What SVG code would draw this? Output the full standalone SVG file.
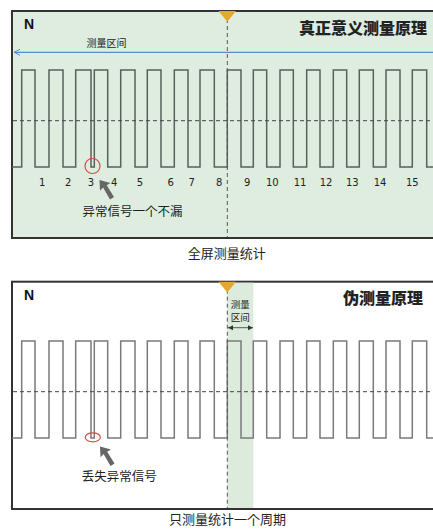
<svg xmlns="http://www.w3.org/2000/svg" width="433" height="529" viewBox="0 0 433 529">
<style>
.t{font-family:"Noto Sans CJK JP","Noto Sans CJK SC",sans-serif;fill:#222222}
.n{font-family:"Liberation Sans",Arial,sans-serif;font-weight:bold;font-size:14px;fill:#111}
.num{font-family:"DejaVu Sans","Noto Sans",sans-serif;font-size:10px;fill:#222;text-anchor:middle}
.wave{fill:none;stroke-width:1.5;stroke-linejoin:miter}
.dash{stroke:#444;stroke-width:1;stroke-dasharray:4,3;fill:none}
.vdash{stroke:#555;stroke-width:1;stroke-dasharray:4,3;fill:none}
.frame{stroke:#333;stroke-width:2}
.ptr{fill:#666}
</style>
<defs>
<marker id="blueHead" markerWidth="8" markerHeight="8" refX="1" refY="4" orient="auto" markerUnits="userSpaceOnUse">
<path d="M7,1 L1,4 L7,7" fill="none" stroke="#5b8cc8" stroke-width="1"/>
</marker>
<marker id="blkL" markerWidth="8" markerHeight="8" refX="1" refY="4" orient="auto" markerUnits="userSpaceOnUse">
<path d="M6,1.5 L1,4 L6,6.5 Z" fill="#333"/>
</marker>
<marker id="blkR" markerWidth="8" markerHeight="8" refX="7" refY="4" orient="auto" markerUnits="userSpaceOnUse">
<path d="M2,1.5 L7,4 L2,6.5 Z" fill="#333"/>
</marker>
<path id="wavePath" d="M12,167 H21.7 V70 H35 V167 H49 V70 H63 V167 H75.7 V70 H91 V167 H94.3 V70 H107.7 V167 H120.7 V70 H135 V167 H147.3 V70 H161 V167 H174.3 V70 H188 V167 H200 V70 H214.3 V167 H227.3 V70 H241 V167 H253.3 V70 H266.7 V167 H280 V70 H293.3 V167 H306.7 V70 H320 V167 H333.3 V70 H346.7 V167 H359.3 V70 H373.3 V167 H386 V70 H400 V167 H412.3 V70 H426.7 V167 H433"/>
<path id="arrowShape" d="M0,0 L11,3 L7.2,5.2 L14.5,17 L10.5,19.5 L3.6,7.6 L0.5,10.8 Z"/>
</defs>

<g id="panel1">
<rect x="12" y="11" width="430" height="227" fill="#dfece0" class="frame"/>
<use href="#wavePath" class="wave" stroke="#56625a"/>
<line x1="13" y1="120.7" x2="433" y2="120.7" class="dash"/>
<line x1="227.3" y1="12" x2="227.3" y2="237" class="vdash"/>
<polygon points="218.5,11 236,11 227.3,21.7" fill="#e5a82a"/>
<text x="24" y="29" class="n">N</text>
<text x="427" y="34" class="t" font-size="16" font-weight="900" text-anchor="end">真正意义测量原理</text>
<text x="106.5" y="47" class="t" font-size="10" text-anchor="middle" fill="#333">测量区间</text>
<line x1="14" y1="52.3" x2="433" y2="52.3" stroke="#5b8cc8" stroke-width="1.2" marker-start="url(#blueHead)"/>
<g>
<text x="42.3" y="186" class="num">1</text>
<text x="68.3" y="186" class="num">2</text>
<text x="91" y="186" class="num">3</text>
<text x="114.3" y="186" class="num">4</text>
<text x="140" y="186" class="num">5</text>
<text x="170.7" y="186" class="num">6</text>
<text x="191.7" y="186" class="num">7</text>
<text x="219.3" y="186" class="num">8</text>
<text x="247.3" y="186" class="num">9</text>
<text x="272.3" y="186" class="num">10</text>
<text x="300" y="186" class="num">11</text>
<text x="326" y="186" class="num">12</text>
<text x="352.3" y="186" class="num">13</text>
<text x="380" y="186" class="num">14</text>
<text x="412.3" y="186" class="num">15</text>
</g>
<circle cx="92.5" cy="166" r="7.5" fill="none" stroke="#d0504a" stroke-width="1.2"/>
<use href="#arrowShape" class="ptr" transform="translate(99.5,180)"/>
<text x="132.5" y="216" class="t" font-size="12.5" text-anchor="middle">异常信号一个不漏</text>
</g>
<text id="caption1" x="226.7" y="258" class="t" font-size="13" text-anchor="middle">全屏测量统计</text>

<g id="panel2">
<rect x="12" y="281.7" width="430" height="227.3" fill="#ffffff" class="frame"/>
<rect x="227.3" y="282.7" width="26" height="225.3" fill="#dcebdc"/>
<use href="#wavePath" class="wave" stroke="#7a7a7a" transform="translate(0,271)"/>
<line x1="13" y1="391.7" x2="433" y2="391.7" class="dash"/>
<line x1="227.3" y1="282.7" x2="227.3" y2="508" class="vdash"/>
<polygon points="218.5,281.7 236,281.7 227.3,292.5" fill="#e5a82a"/>
<text x="24" y="300" class="n">N</text>
<text x="423" y="304" class="t" font-size="16" font-weight="900" text-anchor="end">伪测量原理</text>
<text x="240.3" y="308" class="t" font-size="9.5" text-anchor="middle" fill="#444">测量</text>
<text x="240.3" y="320.5" class="t" font-size="9.5" text-anchor="middle" fill="#444">区间</text>
<line x1="228" y1="327.7" x2="253" y2="327.7" stroke="#333" stroke-width="0.8" marker-start="url(#blkL)" marker-end="url(#blkR)"/>
<ellipse cx="92.8" cy="437.3" rx="7.6" ry="4.5" fill="none" stroke="#d0504a" stroke-width="1.2"/>
<use href="#arrowShape" class="ptr" transform="translate(100,446.5)"/>
<text x="119.2" y="481" class="t" font-size="12.5" text-anchor="middle">丢失异常信号</text>
</g>
<text id="caption2" x="227.5" y="524" class="t" font-size="13" text-anchor="middle">只测量统计一个周期</text>
</svg>
